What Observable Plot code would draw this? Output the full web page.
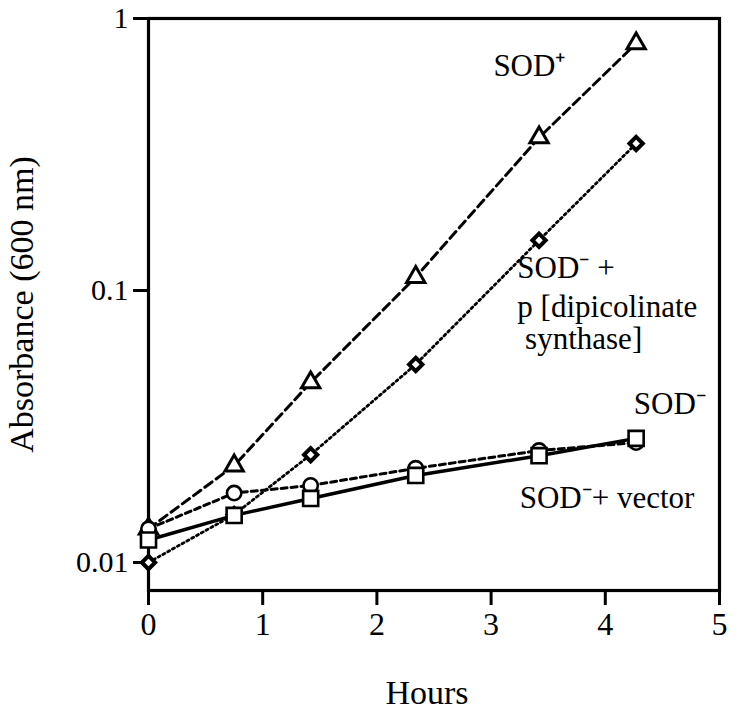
<!DOCTYPE html>
<html><head><meta charset="utf-8">
<script src="https://cdn.jsdelivr.net/npm/d3@7"></script>
<script src="https://cdn.jsdelivr.net/npm/@observablehq/plot@0.6"></script>
<style>body{margin:0;background:#fff} svg{display:block}</style>
</head><body><div id="chart"></div>
<script>
// Sampling times (hours)
const hours = [0, 0.75, 1.42, 2.34, 3.42, 4.27];
// Absorbance (600 nm) per strain
const sodPlus        = [0.0133, 0.0227, 0.0459, 0.112, 0.365, 0.809];   // triangles
const sodMinusDpa    = [0.0100, 0.0150, 0.0249, 0.0535, 0.153, 0.347];  // diamonds
const sodMinusCirc   = [0.0133, 0.0180, 0.0192, 0.0222, 0.0258, 0.0276]; // circles
const sodMinusSquare = [0.0121, 0.0149, 0.0172, 0.0209, 0.0247, 0.0286]; // squares
// Axis ticks
const xTicks = [0, 1, 2, 3, 4, 5];
const xTickLabels = ["0", "1", "2", "3", "4", "5"];
const yTicks = [0.01, 0.1, 1];
const yTickLabels = ["0.01", "0.1", "1"];
// Annotation texts and their anchors (data units)
const labelTexts = ["SOD\u207A", "SOD\u207B +", "p [dipicolinate", "\u00A0synthase]", "SOD\u207B", "SOD\u207B+ vector"];
const labelHours = [3.02, 3.23, 3.23, 3.23, 4.25, 3.25];
const labelAbs   = [0.617, 0.111, 0.080, 0.0612, 0.0353, 0.0159];

const rows = vals => hours.map((h, i) => ({h, v: vals[i]}));
const labels = labelTexts.map((t, i) => ({t, h: labelHours[i], v: labelAbs[i]}));

const chart = Plot.plot({
  width: 738, height: 710,
  marginLeft: 148, marginRight: 19, marginTop: 18, marginBottom: 120,
  x: {domain: [0, 5], axis: null},
  y: {type: "log", domain: [0.00789, 1], axis: null},
  style: {fontFamily: "'Liberation Serif', 'Times New Roman', serif", background: "white", color: "black"},
  marks: [
    Plot.axisX({ticks: xTicks, tickFormat: d => xTickLabels[xTicks.indexOf(d)], tickSize: 15, tickPadding: 7, fontSize: 32, strokeWidth: 3, label: null}),
    Plot.axisY({ticks: yTicks, tickFormat: d => yTickLabels[yTicks.indexOf(d)], tickSize: 15, tickPadding: 5, fontSize: 30, strokeWidth: 3, label: null}),
    Plot.frame({strokeWidth: 3.2}),
    Plot.line(rows(sodPlus), {x: "h", y: "v", strokeWidth: 3, strokeDasharray: "9,5"}),
    Plot.line(rows(sodMinusDpa), {x: "h", y: "v", strokeWidth: 2.8, strokeDasharray: "2.2,3.3"}),
    Plot.line(rows(sodMinusCirc), {x: "h", y: "v", strokeWidth: 3, strokeDasharray: "6,4"}),
    Plot.line(rows(sodMinusSquare), {x: "h", y: "v", strokeWidth: 3.5}),
    Plot.dot(rows(sodPlus), {x: "h", y: "v", symbol: "triangle", r: 6.8, stroke: "black", fill: "white", strokeWidth: 3}),
    Plot.dot(rows(sodMinusDpa), {x: "h", y: "v", symbol: "diamond2", r: 6, stroke: "black", fill: "white", strokeWidth: 4}),
    Plot.dot(rows(sodMinusCirc), {x: "h", y: "v", symbol: "circle", r: 7.2, stroke: "black", fill: "white", strokeWidth: 2.6}),
    Plot.dot(rows(sodMinusSquare), {x: "h", y: "v", symbol: "square", r: 8.5, stroke: "black", fill: "white", strokeWidth: 2.6}),
    Plot.text(labels, {x: "h", y: "v", text: "t", textAnchor: "start", lineAnchor: "bottom", fontSize: 31, fill: "black"}),
    Plot.text(["Absorbance (600 nm)"], {frameAnchor: "left", textAnchor: "middle", dx: -116, rotate: -90, lineAnchor: "bottom", fontSize: 34, fill: "black"}),
    Plot.text(["Hours"], {frameAnchor: "bottom", textAnchor: "middle", dx: -7, dy: 113, lineAnchor: "bottom", fontSize: 34, fill: "black"})
  ]
});
document.getElementById("chart").append(chart);
</script>
</body></html>
